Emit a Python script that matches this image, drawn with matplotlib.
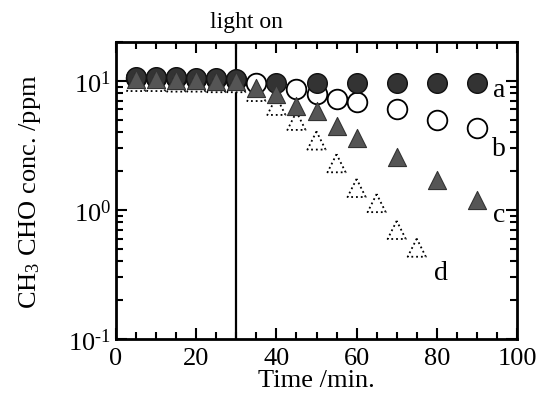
import matplotlib
matplotlib.use("Agg")
import matplotlib.pyplot as plt
import matplotlib.ticker as mticker
import matplotlib.transforms as mtransforms
import numpy as np

plt.rcParams['font.family'] = ['Liberation Serif', 'DejaVu Serif']
plt.rcParams['mathtext.fontset'] = 'custom'
plt.rcParams['mathtext.rm'] = 'Liberation Serif'
plt.rcParams['mathtext.it'] = 'Liberation Serif:italic'

# time (min) and CH3CHO concentration (ppm) for the four runs
t_a = [5, 10, 15, 20, 25, 30, 40, 50, 60, 70, 80, 90]
c_a = [10.8, 10.8, 10.7, 10.6, 10.5, 10.4, 9.6, 9.6, 9.6, 9.7, 9.6, 9.6]

t_b = [5, 10, 15, 20, 25, 30, 35, 45, 50, 55, 60, 70, 80, 90]
c_b = [10.6, 10.5, 10.5, 10.4, 10.3, 10.2, 9.6, 8.7, 7.9, 7.3, 6.9, 6.1, 5.0, 4.35]

t_c = [5, 10, 15, 20, 25, 30, 35, 40, 45, 50, 55, 60, 70, 80, 90]
c_c = [10.3, 10.3, 10.2, 10.1, 10.0, 10.0, 8.8, 7.9, 6.4, 5.8, 4.5, 3.6, 2.55, 1.7, 1.2]

t_d = [5, 10, 15, 20, 25, 30, 35, 40, 45, 50, 55, 60, 65, 70, 75]
c_d = [9.8, 9.8, 9.7, 9.7, 9.6, 9.6, 8.2, 6.4, 4.9, 3.45, 2.3, 1.48, 1.13, 0.70, 0.51]

labels = ['a', 'b', 'c', 'd']
label_pos = [(95.5, 8.6), (95.5, 3.0), (95.5, 0.93), (81, 0.33)]
light_on = 30

fig = plt.figure(figsize=(5.39, 4.10), dpi=100)
ax = fig.add_axes([0.2152, 0.1707, 0.7440, 0.7244])

ax.scatter(t_b, c_b, s=200, facecolor='white', edgecolor='black', linewidth=1.3, zorder=3)
ax.scatter(t_a, c_a, s=200, facecolor='#333333', edgecolor='#111111', linewidth=1.0, zorder=4)
ax.scatter(t_d, c_d, s=170, marker='^', facecolor='white', edgecolor='black',
           linewidth=1.3, linestyle=':', zorder=5)
ax.scatter(t_c, c_c, s=170, marker='^', facecolor='#555555', edgecolor='#333333',
           linewidth=0.8, zorder=6)

ax.axvline(light_on, color='black', lw=1.6, zorder=2)
trans = mtransforms.blended_transform_factory(ax.transData, ax.transAxes)
ax.text(light_on + 2.5, 1.035, 'light on', transform=trans, ha='center', va='bottom', fontsize=17)

for lab, (x, y) in zip(labels, label_pos):
    ax.text(x, y, lab, ha='center', va='center', fontsize=20, zorder=7)

ax.set_yscale('log')
ax.set_xlim(0, 100)
ax.set_ylim(0.1, 20)
ax.xaxis.set_major_locator(mticker.MultipleLocator(20))
ax.xaxis.set_minor_locator(mticker.MultipleLocator(5))
ax.yaxis.set_major_locator(mticker.LogLocator(base=10, numticks=10))
ax.yaxis.set_minor_locator(mticker.LogLocator(base=10, subs=range(2, 10), numticks=10))
ax.yaxis.set_minor_formatter(mticker.NullFormatter())


def log_fmt(v, pos):
    e = int(round(np.log10(v)))
    if e < 0:
        return r'$\mathdefault{10^{\text{-}%d}}$' % (-e)
    return r'$\mathdefault{10^{%d}}$' % e


ax.yaxis.set_major_formatter(mticker.FuncFormatter(log_fmt))

ax.tick_params(which='both', direction='in', top=True, right=True, width=1.5, labelsize=19)
ax.tick_params(which='major', length=8)
ax.tick_params(which='minor', length=5)
ax.tick_params(axis='x', pad=6)
for s in ax.spines.values():
    s.set_linewidth(2.0)

ax.set_xlabel('Time /min.', fontsize=19, labelpad=0)
ax.set_ylabel(r'CH$_3$ CHO conc. /ppm', fontsize=19, labelpad=18)

fig.savefig('out.png', dpi=100)
